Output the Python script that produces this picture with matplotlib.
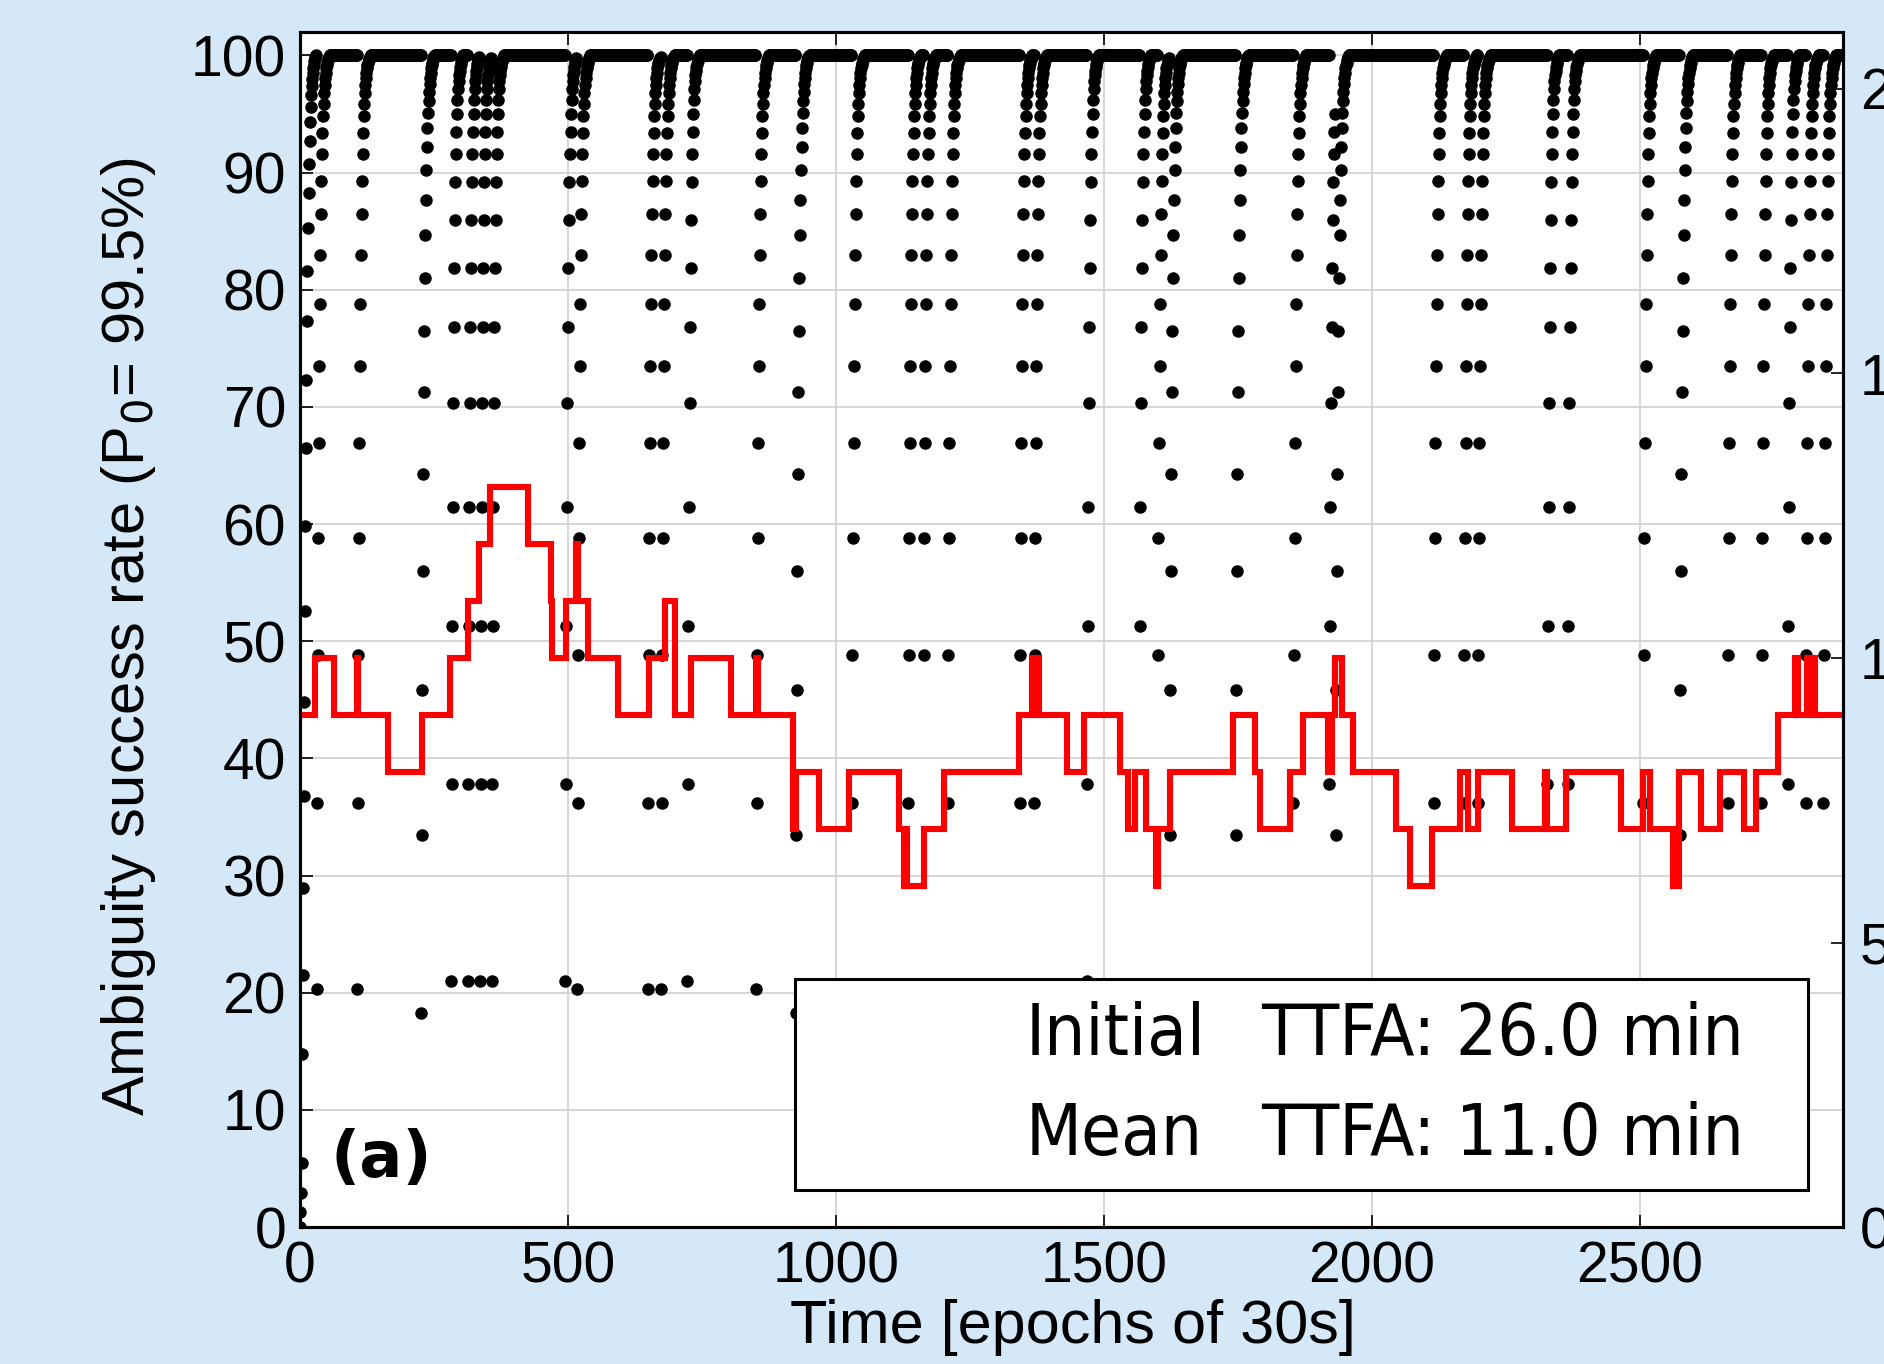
import matplotlib.pyplot as plt
import numpy as np

# --- data ---
# convergence of the success rate after a reset (one value per epoch),
# three column types seen in the plot: slow, mid, fast
curve_slow = [18.3, 33.5, 45.8, 56.0, 64.3, 71.3, 76.5, 81.0, 84.7, 87.7,
              90.2, 92.2, 93.8, 95.1, 96.1, 96.9, 97.6, 98.1, 98.5, 98.9,
              99.2, 99.4, 99.6, 99.75, 99.85, 99.95, 100.0]
curve_mid = [20.3, 36.2, 48.8, 58.8, 66.9, 73.5, 78.8, 83.0, 86.5, 89.3,
             91.6, 93.4, 94.8, 95.9, 96.8, 97.5, 98.1, 98.5, 98.9, 99.2,
             99.4, 99.6, 99.7, 99.8, 99.9, 100.0]
curve_fast = [21.0, 37.8, 51.3, 61.5, 70.3, 76.8, 81.9, 86.0, 89.2, 91.6,
              93.5, 95.0, 96.2, 97.1, 97.8, 98.3, 98.7, 99.0, 99.3, 99.5,
              99.7, 99.8, 99.9, 100.0]
# cold start at epoch 0
cold_start = [0.0, 1.3, 2.9, 5.5, 14.8, 21.5, 28.9, 36.8, 44.8, 52.6, 59.8,
              66.5, 72.3, 77.3, 81.6, 85.3, 88.3, 90.7, 92.7, 94.3, 95.6,
              96.6, 97.4, 98.0, 98.5, 98.9, 99.2, 99.5, 99.7, 99.85, 100.0]
# epochs of later resets, lowest value seen in each column, column type
reset_epoch = [31, 107, 226, 282, 313, 336, 358, 495, 517, 649, 674, 723,
               851, 925, 1030, 1135, 1164, 1209, 1343, 1370, 1468, 1567,
               1601, 1623, 1746, 1854, 1921, 1932, 2116, 2172, 2198, 2328,
               2366, 2507, 2574, 2664, 2727, 2776, 2810, 2843]
reset_low = [20.4, 20.1, 18.3, 20.8, 21.0, 21.0, 21.0, 21.0, 20.3, 20.3,
             20.5, 21.2, 20.0, 15.0, 36.5, 36.5, 46.5, 36.4, 36.9, 36.5,
             21.5, 48.4, 46.5, 36.1, 35.7, 37.0, 38.0, 25.3, 36.5, 37.0,
             36.5, 38.0, 38.0, 36.9, 22.0, 36.5, 37.0, 37.3, 37.0, 36.9]
reset_type = ['mid', 'mid', 'slow', 'fast', 'fast', 'fast', 'fast', 'fast',
              'mid', 'mid', 'mid', 'fast', 'mid', 'slow', 'mid', 'mid',
              'mid', 'mid', 'mid', 'mid', 'fast', 'fast', 'mid', 'slow',
              'slow', 'mid', 'fast', 'slow', 'mid', 'mid', 'mid', 'fast',
              'fast', 'mid', 'slow', 'mid', 'mid', 'fast', 'mid', 'mid']

# TTFA step line (right axis): epoch where a level starts, level
ttfa_epoch = [0, 29, 63, 106, 109, 165, 227, 280, 314, 335, 355, 425, 468,
              470, 497, 516, 519, 537, 594, 652, 682, 700, 729, 804, 851,
              855, 921, 925, 969, 1025, 1118, 1127, 1130, 1133, 1164, 1202,
              1341, 1366, 1370, 1375, 1380, 1432, 1463, 1531, 1546, 1559,
              1578, 1598, 1601, 1624, 1742, 1782, 1792, 1848, 1872, 1919,
              1926, 1931, 1944, 1966, 2046, 2071, 2112, 2164, 2180, 2198,
              2261, 2323, 2328, 2363, 2466, 2506, 2520, 2562, 2574, 2615,
              2649, 2694, 2717, 2758, 2789, 2795, 2813, 2818, 2822, 2827,
              2880]
ttfa_level = [9, 10, 9, 10, 9, 8, 9, 10, 11, 12, 13, 12, 11,
              10, 11, 12, 11, 10, 9, 10, 11, 9, 10, 9, 10,
              9, 7, 8, 7, 8, 7, 6, 7, 6, 7, 8,
              9, 10, 9, 10, 9, 8, 9, 8, 7, 8,
              7, 6, 7, 8, 9, 8, 7, 8, 9, 8,
              9, 10, 9, 8, 7, 6, 7, 8, 7, 8,
              7, 8, 7, 8, 7, 8, 7, 6, 8, 7,
              8, 7, 8, 9, 10, 9, 10, 9, 10, 9,
              9]

n_epochs = 2881
initial_ttfa = "26.0 min"
mean_ttfa = "11.0 min"

# build the per-epoch success rate from the read columns
curves = {'slow': np.array(curve_slow), 'mid': np.array(curve_mid),
          'fast': np.array(curve_fast)}
epochs = np.arange(n_epochs)
rate = np.full(n_epochs, 100.0)
rate[:len(cold_start)] = cold_start
bounds = reset_epoch + [n_epochs]
for i, e in enumerate(reset_epoch):
    c = curves[reset_type[i]]
    k = int(np.argmin(np.abs(c - reset_low[i])))
    seg = c[k:]
    n = min(len(seg), bounds[i + 1] - e)
    rate[e:e + n] = seg[:n]

plt.rcParams['font.family'] = ['Liberation Sans', 'DejaVu Sans']

fig = plt.figure(figsize=(18.84, 13.64), dpi=100, facecolor='#d4e8f7')
ax = fig.add_axes([0.1592, 0.1004, 0.8192, 0.8761])
ax.set_facecolor('white')
ax2 = ax.twinx()

ax.grid(True, color='#cfcfcf', lw=1.2)
ax.set_axisbelow(True)
ax.plot(epochs, rate, 'o', color='black', ms=8, mec='black', zorder=3)

ax2.step(ttfa_epoch, ttfa_level, where='post', color='#ff0000', lw=4.4,
         solid_joinstyle='miter')

ax.set_xlim(0, 2880)
ax.set_ylim(0, 102)
ax2.set_ylim(0, 21)
ax.set_xticks(np.arange(0, 2501, 500))
ax.set_yticks(np.arange(0, 101, 10))
ax2.set_yticks([0, 5, 10, 15, 20])

for a in (ax, ax2):
    for s in a.spines.values():
        s.set_linewidth(2.2)
ax.tick_params(axis='both', direction='in', length=9, width=1.2,
               labelsize=41, pad=10, top=True)
ax2.tick_params(axis='y', direction='in', length=9, width=1.2,
                labelsize=41, pad=12)

ax.set_xlabel('Time [epochs of 30s]', fontsize=44)
ax.xaxis.set_label_coords(0.501, -0.060)
ax.xaxis.label.set_va('top')
ax.set_ylabel('Ambiguity success rate (P$_0$= 99.5%)', fontsize=43)
ax.yaxis.set_label_coords(-0.092, 0.494)

# info box
box = plt.Rectangle((0.3208, 0.031), 0.6565, 0.1765, transform=ax.transAxes,
                    facecolor='white', edgecolor='black', lw=2.2, zorder=5)
ax.add_patch(box)
txt = dict(transform=ax.transAxes, fontsize=52, va='center',
           family='DejaVu Sans', stretch='condensed', ha='left', zorder=6)
ax.text(0.470, 0.160, 'Initial', **txt)
ax.text(0.623, 0.160, 'TTFA: ' + initial_ttfa, **txt)
ax.text(0.470, 0.077, 'Mean', **txt)
ax.text(0.623, 0.077, 'TTFA: ' + mean_ttfa, **txt)

ax.text(0.0525, 0.057, '(a)', transform=ax.transAxes, fontsize=46,
        fontweight='bold', family='DejaVu Sans', ha='center', va='center',
        zorder=6)

fig.savefig('out.png', dpi=100, facecolor=fig.get_facecolor())
